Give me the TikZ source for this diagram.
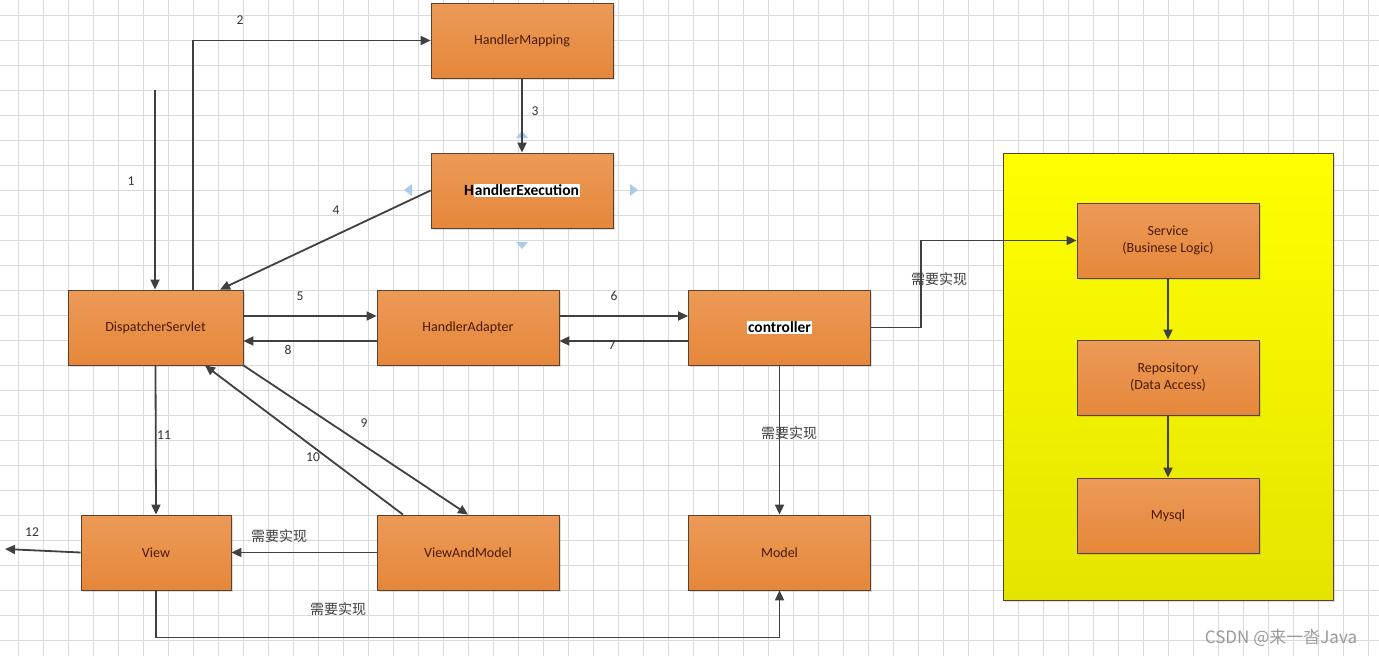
\documentclass[tikz,border=0pt]{standalone}
\usepackage{fontspec}
\setmainfont{Carlito}
\newfontfamily\cjk{Noto Sans CJK SC}
\usetikzlibrary{positioning, shadows, arrows.meta}

\definecolor{boxtop}{HTML}{EC9A58}
\definecolor{boxbot}{HTML}{E5873A}
\definecolor{boxline}{HTML}{5A4030}
\definecolor{boxtext}{HTML}{4A1A05}
\definecolor{arrowgrey}{HTML}{404040}
\definecolor{gridgrey}{HTML}{DADADA}
\definecolor{handleblue}{HTML}{A9CBEE}

\begin{document}
\begin{tikzpicture}[x=1pt, y=-1pt,
        stage/.style={rectangle, draw=boxline, line width=0.8pt, top color=boxtop, bottom color=boxbot,
            minimum width=182pt, minimum height=75pt, text=boxtext, font=\fontsize{14}{17}\selectfont,
            align=center, drop shadow={opacity=0.25, shadow xshift=1.5pt, shadow yshift=-1.5pt}},
        arr/.style={draw=arrowgrey, line width=1.8pt, -{Triangle[length=10pt, width=9pt]}},
        num/.style={font=\fontsize{13.5}{15}\selectfont, text=black!80},
        impl/.style={font=\cjk\fontsize{14}{16}\selectfont, text=black!75},
        gridline/.style={draw=gridgrey, line width=0.5pt},
        handle/.style={fill=handleblue, draw=none}
    ]
        % Canvas and grid
        \useasboundingbox (0,0) rectangle (1379,656);
        \fill[white] (0,0) rectangle (1379,656);
        \foreach \x in {18,43,...,1368}
            \draw[gridline] (\x,0) -- (\x,656);
        \foreach \y in {15,40,...,640}
            \draw[gridline] (0,\y) -- (1379,\y);

        % Yellow layer
        \node[rectangle, draw=boxline, line width=0.8pt, top color=yellow, bottom color={rgb,255:red,228;green,228;blue,0},
            minimum width=330pt, minimum height=447pt,
            drop shadow={opacity=0.25, shadow xshift=1.5pt, shadow yshift=-1.5pt}] (layer) at (1168,376.5) {};

        % Main stages
        \node[stage] (hmap) at (522,40.5) {HandlerMapping};
        \node[stage, font=\bfseries\fontsize{15.5}{17}\selectfont, text=black] (hexec) at (522,190.5)
            {H{\setlength\fboxsep{1pt}\colorbox{white}{andlerExecution}}};
        \node[stage, minimum width=175pt] (dispatcher) at (155.5,327.5) {DispatcherServlet};
        \node[stage] (hadapter) at (468,327.5) {HandlerAdapter};
        \node[stage, font=\bfseries\fontsize{15.5}{17}\selectfont, text=black] (controller) at (779.5,327.5)
            {{\setlength\fboxsep{1pt}\colorbox{white}{controller}}};
        \node[stage, minimum width=150pt] (view) at (156,552.5) {View};
        \node[stage] (vam) at (468,552.5) {ViewAndModel};
        \node[stage] (model) at (779.5,552.5) {Model};

        % Back end
        \node[stage] (service) at (1168,240.5) {Service\\(Businese Logic)};
        \node[stage] (repo) at (1168,377.5) {Repository\\(Data Access)};
        \node[stage] (mysql) at (1168,515.5) {Mysql};

        % Selection handles
        \path[handle] (404,190) -- (412,184) -- (412,196) -- cycle;
        \path[handle] (638,190) -- (630,184) -- (630,196) -- cycle;
        \path[handle] (522,249) -- (516,242) -- (528,242) -- cycle;
        \path[handle] (522,131) -- (516,138) -- (528,138) -- cycle;

        % Connections
        \coordinate (in1) at (155,90);
        \coordinate (out12) at (5,549);
        \draw[arr] (in1) -- (in1 |- dispatcher.north);
        \draw[arr] ([xshift=37.5pt]dispatcher.north) |- (hmap.west);
        \draw[arr] (hmap.south) -- (hexec.north);
        \draw[arr] (hexec.west) -- ([xshift=64.5pt]dispatcher.north);
        \draw[arr] ([yshift=11.5pt]dispatcher.east) -- ([yshift=11.5pt]hadapter.west);
        \draw[arr] ([yshift=-13.5pt]hadapter.west) -- ([yshift=-13.5pt]dispatcher.east);
        \draw[arr] ([yshift=11.5pt]hadapter.east) -- ([yshift=11.5pt]controller.west);
        \draw[arr] ([yshift=-13.5pt]controller.west) -- ([yshift=-13.5pt]hadapter.east);
        \draw[arr] (controller.east) -- ++(50,0) |- (service.west);
        \draw[arr] (controller.south) -- (model.north);
        \draw[arr] (dispatcher.south east) -- (vam.north);
        \draw[arr] ([xshift=-65pt]vam.north) -- ([xshift=49.5pt]dispatcher.south);
        \draw[arr] (dispatcher.south) -- (view.north);
        \draw[arr] (view.west) -- (out12);
        \draw[arr] (vam.west) -- (view.east);
        \draw[arr] (view.south) -- ++(0,47) -| (model.south);
        \draw[arr] (service.south) -- (repo.north);
        \draw[arr] (repo.south) -- (mysql.north);

        % Labels
        \node[num] (l1) at (131,181) {1};
        \node[num] (l2) at (240,20) {2};
        \node[num] (l3) at (535,111) {3};
        \node[num] (l4) at (336,210) {4};
        \node[num] (l5) at (300,296) {5};
        \node[num] (l6) at (614,296) {6};
        \node[num] (l7) at (612,345) {7};
        \node[num] (l8) at (288,350) {8};
        \node[num] (l9) at (364,423) {9};
        \node[num] (l10) at (313,457) {10};
        \node[num] (l11) at (164,435) {11};
        \node[num] (l12) at (32,532) {12};
        \node[impl] (i1) at (939,279) {需要实现};
        \node[impl] (i2) at (789,433) {需要实现};
        \node[impl] (i3) at (279,536) {需要实现};
        \node[impl] (i4) at (338,609) {需要实现};
        \node[font=\cjk\fontsize{17}{19}\selectfont, text=black!40] (mark) at (1281,638) {CSDN @来一沓Java};
    \end{tikzpicture}
\end{document}
